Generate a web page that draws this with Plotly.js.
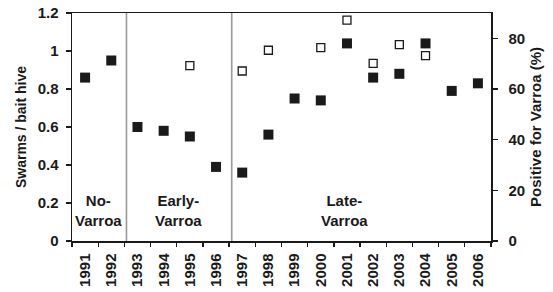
<!DOCTYPE html>
<html>
<head>
<meta charset="utf-8">
<script src="https://cdn.plot.ly/plotly-3.0.1.min.js"></script>
<style>html,body{margin:0;padding:0;background:#fff;}#chart{width:553px;height:292px;}</style>
</head>
<body>
<div id="chart"></div>
<script>
const years = ['1991','1992','1993','1994','1995','1996','1997','1998','1999','2000','2001','2002','2003','2004','2005','2006'];
const swarmsPerBaitHive = [0.86,0.95,0.60,0.58,0.55,0.39,0.36,0.56,0.75,0.74,1.04,0.86,0.88,1.04,0.79,0.83];
const positiveForVarroa = [null,null,null,null,69.2,null,67.1,75.3,null,76.3,87.2,70.1,77.5,73.2,null,null];
const periodLabels = ['No-<br>Varroa','Early-<br>Varroa','Late-<br>Varroa'];
const periodLabelX = [0.53, 3.55, 9.9];
const periodDividers = [1.58, 5.6];

const ink = '#1a1a1a';
const fontFam = '"Liberation Sans", Arial, sans-serif';
const bold = (size) => ({family: fontFam, size: size, color: ink, weight: 700});

const traces = [
  {x: years, y: swarmsPerBaitHive, type: 'scatter', mode: 'markers', yaxis: 'y',
   marker: {symbol: 'square', size: 10, color: ink, line: {width: 0}}, showlegend: false, cliponaxis: false},
  {x: years, y: positiveForVarroa, type: 'scatter', mode: 'markers', yaxis: 'y2',
   marker: {symbol: 'square', size: 8, color: '#fff', line: {width: 1.3, color: ink}}, showlegend: false, cliponaxis: false}
];

const layout = {
  width: 553, height: 292,
  margin: {l: 72, r: 62, t: 13, b: 51},
  paper_bgcolor: '#fff', plot_bgcolor: '#fff',
  font: bold(14),
  xaxis: {type: 'category', categoryorder: 'array', categoryarray: years,
    range: [-0.5, 15.5], tickson: 'boundaries', ticks: 'outside', ticklen: 4, tickwidth: 1.3, tickcolor: ink,
    showline: true, linecolor: ink, linewidth: 1.5, mirror: true, showgrid: false, zeroline: false,
    tickangle: -90, tickfont: bold(15), ticklabelstandoff: 5},
  yaxis: {range: [0, 1.2], dtick: 0.2, tick0: 0, ticks: 'outside', ticklen: 5, tickwidth: 1.3, tickcolor: ink,
    showline: true, linecolor: ink, linewidth: 1.5, showgrid: false, zeroline: false,
    tickfont: bold(15), ticklabelstandoff: 4,
    title: {text: 'Swarms / bait hive', font: bold(14), standoff: 7}},
  yaxis2: {range: [0, 90], tickvals: [0,20,40,60,80], overlaying: 'y', side: 'right', ticks: 'outside', ticklen: 5, tickwidth: 1.3, tickcolor: ink,
    showline: true, linecolor: ink, linewidth: 1.5, showgrid: false, zeroline: false,
    tickfont: bold(15), ticklabelstandoff: 8,
    title: {text: 'Positive for Varroa (%)', font: bold(15), standoff: 6}},
  shapes: periodDividers.map(v => ({type: 'line', xref: 'x', yref: 'paper', x0: v, x1: v, y0: 0, y1: 1,
    line: {color: '#999', width: 1.6}})),
  annotations: periodLabels.map((t, i) => ({x: periodLabelX[i], y: 0.16, xref: 'x', yref: 'y', text: t,
    showarrow: false, font: bold(15), align: 'center'}))
};

Plotly.newPlot('chart', traces, layout, {staticPlot: true, displayModeBar: false});
</script>
</body>
</html>
